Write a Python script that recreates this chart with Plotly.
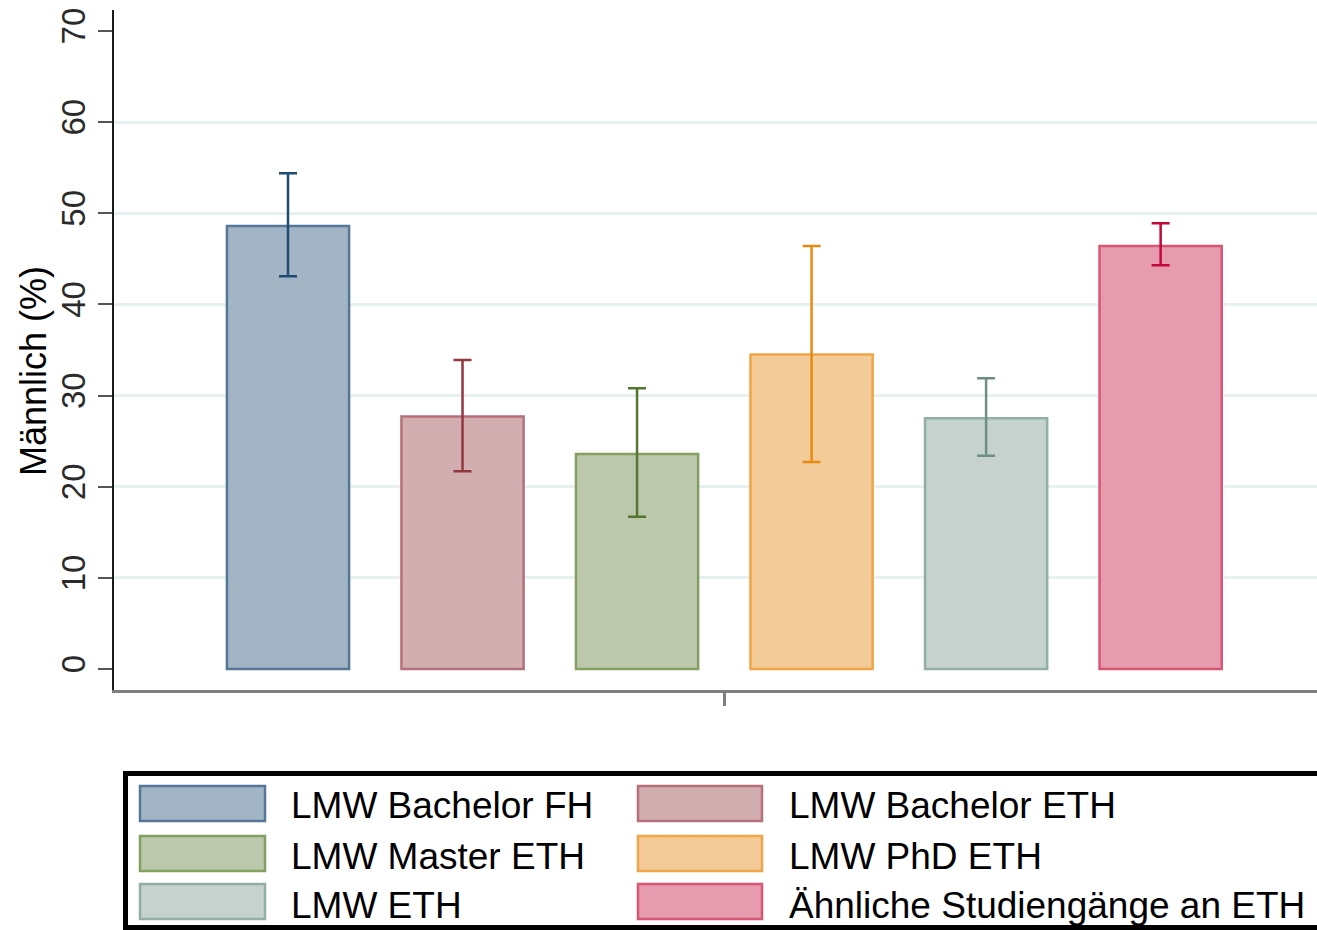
import plotly.graph_objects as go

# ---- data ----
categories = ["LMW Bachelor FH", "LMW Bachelor ETH", "LMW Master ETH",
              "LMW PhD ETH", "LMW ETH", "Ähnliche Studiengänge an ETH"]
values = [48.6, 27.7, 23.6, 34.5, 27.5, 46.4]
ci_upper = [54.4, 33.9, 30.8, 46.4, 31.9, 48.9]
ci_lower = [43.1, 21.7, 16.7, 22.7, 23.4, 44.3]
y_ticks = [0, 10, 20, 30, 40, 50, 60, 70]
grid_vals = [10, 20, 30, 40, 50, 60]
y_title = "Männlich (%)"

# ---- styles ----
fill_colors = ["#A3B5C5", "#D3AEB1", "#BBC8AB", "#F3CB99", "#C5D2CE", "#E69BAE"]
line_colors = ["#557797", "#B5707A", "#84A060", "#F0A546", "#93AEA6", "#D85573"]
err_colors = ["#1F4B73", "#923840", "#557630", "#E88A10", "#6F8E84", "#C3093A"]
FONT = "Liberation Sans, Arial, sans-serif"

W, H = 1317, 930
L, R, T, B = 114, 0, 10, 240
PW, PH = W - L - R, H - T - B


def px(x):
    return (x - L) / PW


def py(y):
    return (H - B - y) / PH


fig = go.Figure()
for i, cat in enumerate(categories):
    fig.add_trace(go.Bar(
        x=[i], y=[values[i]], width=0.70, name=cat, showlegend=False,
        marker=dict(color=fill_colors[i], line=dict(color=line_colors[i], width=2.5)),
        error_y=dict(type="data", symmetric=False,
                     array=[ci_upper[i] - values[i]],
                     arrayminus=[values[i] - ci_lower[i]],
                     color=err_colors[i], thickness=2.5, width=9),
    ))

n = len(categories)
shapes = []
annotations = []

# legend (custom, Stata-like)
shapes.append(dict(type="rect", xref="paper", yref="paper",
                   x0=px(125.5), x1=px(1340), y0=py(927.5), y1=py(773.5),
                   line=dict(color="black", width=5), fillcolor="rgba(0,0,0,0)"))
sym_x = [(140, 265), (638, 762)]
sym_top = [786, 836, 884]
txt_y = [805, 856, 905]
txt_x = [289, 787]
for i, cat in enumerate(categories):
    r, c = divmod(i, 2)
    shapes.append(dict(type="rect", xref="paper", yref="paper",
                       x0=px(sym_x[c][0]), x1=px(sym_x[c][1]),
                       y0=py(sym_top[r] + 35), y1=py(sym_top[r]),
                       line=dict(color=line_colors[i], width=2.5),
                       fillcolor=fill_colors[i]))
    annotations.append(dict(text=cat, xref="paper", yref="paper",
                            x=px(txt_x[c]), y=py(txt_y[r]),
                            xanchor="left", yanchor="middle", showarrow=False,
                            font=dict(family=FONT, size=37, color="black")))

annotations.append(dict(text=y_title, xref="paper", yref="paper",
                        x=px(33), y=py(371), xanchor="center", yanchor="middle",
                        textangle=-90, showarrow=False,
                        font=dict(family=FONT, size=36, color="black")))

fig.update_layout(
    width=W, height=H,
    margin=dict(l=L, r=R, t=T, b=B),
    paper_bgcolor="white", plot_bgcolor="white",
    font=dict(family=FONT, color="black"),
    barmode="overlay",
    shapes=shapes, annotations=annotations,
    xaxis=dict(range=[-0.997, 5.896], showgrid=False, zeroline=False,
               showline=True, linecolor="#7f7f7f", linewidth=3,
               ticks="outside", tickvals=[(n - 1) / 2], ticktext=[""],
               ticklen=13, tickwidth=3, tickcolor="#7f7f7f"),
    yaxis=dict(range=[-2.3, 72.3], showgrid=False, zeroline=False,
               showline=True, linecolor="#1a1a1a", linewidth=2,
               ticks="outside", tickvals=y_ticks, ticklen=14, tickwidth=2,
               tickcolor="#555555", tickangle=-90,
               tickfont=dict(family=FONT, size=33, color="#2a2a2a"),
               minor=dict(tickmode="array", tickvals=grid_vals, showgrid=True,
                          gridcolor="#E8F1F2", gridwidth=2.5, ticks="")),
)

fig.write_html("out.html",
               config={"displayModeBar": False},
               post_script="document.body.style.margin='0';document.body.style.overflow='hidden';")
